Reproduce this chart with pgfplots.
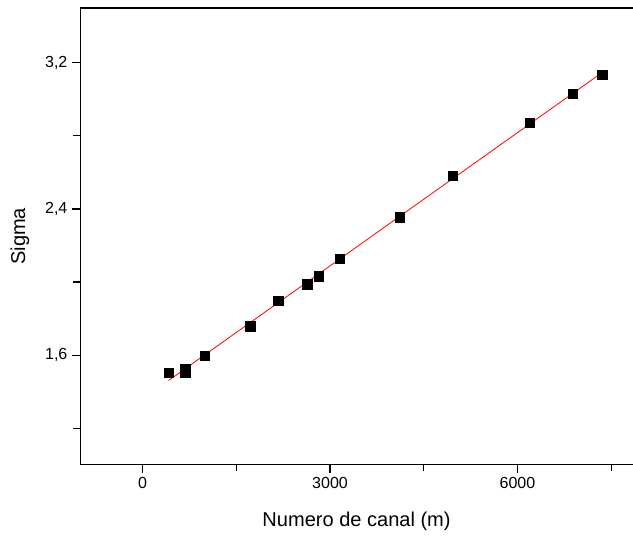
\documentclass[border=0pt]{standalone}
\usepackage{pgfplots}
\pgfplotsset{compat=1.18}
\usepackage{fontspec}
\setmainfont{Liberation Sans}
\begin{document}
\begin{tikzpicture}
\begin{axis}[name=ax, scale only axis, width=414pt, height=342pt,
  xmin=-1000, xmax=7850, ymin=1.0, ymax=3.5,
  axis x line=box, axis y line=left,
  axis line style={-, line width=0.9pt},
  xtick={0,3000,6000}, minor xtick={1500,4500,7500},
  ytick={1.6,2.4,3.2}, minor ytick={1.2,2.0,2.8},
  tick pos=left, tick align=outside,
  major tick length=6pt, minor tick length=5pt,
  tick style={black, line width=0.9pt},
  /pgf/number format/assume math mode=true,
  /pgf/number format/use comma,
  /pgf/number format/1000 sep={},
  yticklabel style={/pgf/number format/fixed, /pgf/number format/precision=1, /pgf/number format/fixed zerofill},
  tick label style={font=\fontsize{12}{14}\selectfont},
  label style={font=\fontsize{15}{18}\selectfont},
  xlabel={Numero de canal (m)}, ylabel={Sigma},
  xlabel style={at={(axis description cs:0.5,-0.1228)}, anchor=center},
  ylabel style={at={(axis description cs:-0.1087,0.5)}, anchor=center},
  clip=false,
]
\addplot[red, line width=0.6pt] coordinates {(417,1.461) (7356,3.147)};
\addplot[only marks, mark=square*, mark size=3.5pt, mark options={fill=black, draw=black}] coordinates {
(417,1.503) (684,1.524) (684,1.503) (1000,1.598) (1726,1.758) (2170,1.899)
(2635,1.987) (2821,2.032) (3157,2.129) (4114,2.355) (4968,2.583)
(6202,2.872) (6886,3.030) (7356,3.136)};
\end{axis}
\pgfresetboundingbox
\path[use as bounding box] ([xshift=-60pt,yshift=-53.25pt]ax.south west) rectangle ([yshift=6pt]ax.north east);
\end{tikzpicture}
\end{document}
